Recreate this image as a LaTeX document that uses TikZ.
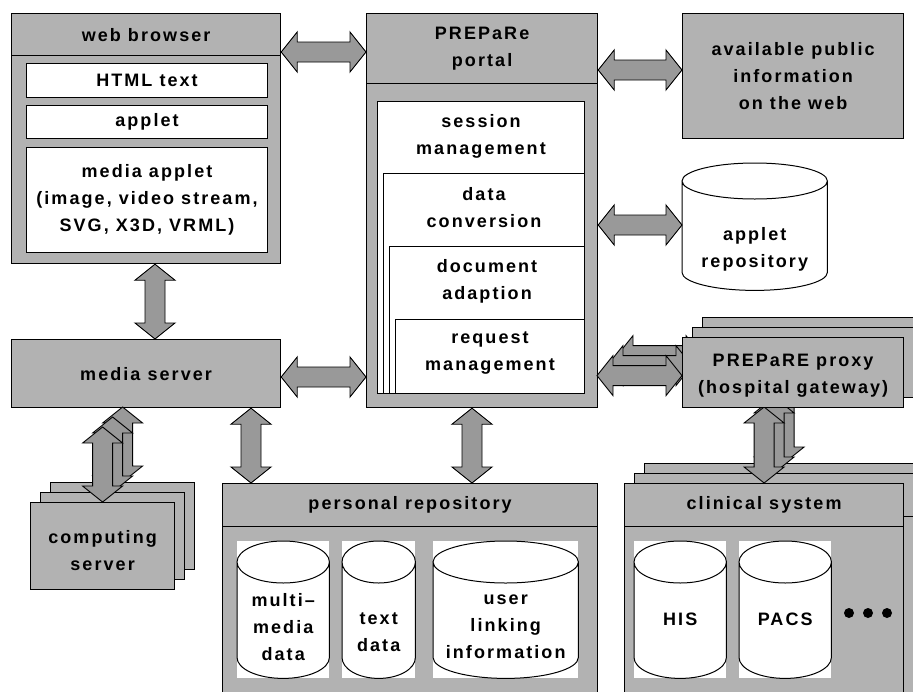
\documentclass[tikz,border=0pt]{standalone}
\usepackage{fontspec}
\setmainfont{Liberation Sans}[LetterSpace=11.5]
\usetikzlibrary{calc}
\definecolor{boxgray}{HTML}{B2B2B2}
\definecolor{arrowgray}{HTML}{999999}
\tikzstyle{gbox}=[draw=black,fill=boxgray,line width=1.2pt,anchor=north west,inner sep=0pt,align=center]
\tikzstyle{wbox}=[draw=black,fill=white,line width=1pt,anchor=north west,inner sep=0pt,align=center]
\tikzstyle{wrect}=[fill=white,anchor=north west,inner sep=0pt]
\tikzstyle{lbl}=[align=center,inner sep=0pt]
\tikzstyle{barrow}=[draw=black,fill=arrowgray,line width=0.9pt,line join=miter]
% block arrows: left--right and top--bottom
\newcommand{\harr}[2]{\draw[barrow] let \p1=#1, \p2=#2 in
  (\x1,\y1) -- (\x1+16pt,\y1+20pt) -- (\x1+16pt,\y1+10pt) -- (\x2-16pt,\y1+10pt) -- (\x2-16pt,\y1+20pt) -- (\x2,\y1)
  -- (\x2-16pt,\y1-20pt) -- (\x2-16pt,\y1-10pt) -- (\x1+16pt,\y1-10pt) -- (\x1+16pt,\y1-20pt) -- cycle;}
\newcommand{\varr}[2]{\draw[barrow] let \p1=#1, \p2=#2 in
  (\x1,\y1) -- (\x1+20pt,\y1-16pt) -- (\x1+10pt,\y1-16pt) -- (\x1+10pt,\y2+16pt) -- (\x1+20pt,\y2+16pt) -- (\x1,\y2)
  -- (\x1-20pt,\y2+16pt) -- (\x1-10pt,\y2+16pt) -- (\x1-10pt,\y1-16pt) -- (\x1-20pt,\y1-16pt) -- cycle;}
% cylinder outline over a node
\newcommand{\cyl}[2]{\draw[line width=1pt] let \p1=(#1.north west), \p2=(#1.south east), \n1={(\x2-\x1)/2} in
  (\x1,\y1-#2) -- (\x1,\y2+#2) arc[start angle=180,end angle=360,x radius={\n1*1pt},y radius=#2] -- (\x2,\y1-#2)
  (\x1+\n1*1pt,\y1-#2) ellipse[x radius={\n1*1pt},y radius=#2];}

\begin{document}
\begin{tikzpicture}[x=1pt,y=-1pt,font=\bfseries\fontsize{18}{27}\selectfont]
\path[use as bounding box] (0,0) rectangle (913,691);
\clip (0,0) rectangle (913,691);

% web browser
\node[gbox,minimum width=269pt,minimum height=250pt] (web) at (11,13) {};
\node[gbox,minimum width=269pt,minimum height=42pt] (webhead) at (11,13) {web browser};
\node[wbox,minimum width=241pt,minimum height=34pt] (html) at (26,63) {HTML text};
\node[wbox,minimum width=241pt,minimum height=33pt] (applet) at (26,105) {applet};
\node[wbox,minimum width=241pt,minimum height=105pt] (mapplet) at (26,147) {media applet\\(image, video stream,\\SVG, X3D, VRML)};

% portal
\node[gbox,minimum width=231pt,minimum height=394pt] (portal) at (366,13) {};
\node[gbox,minimum width=231pt,minimum height=70pt] (portalhead) at (366,13) {PREPaRe\\portal};
\node[wbox,minimum width=207pt,minimum height=292pt] (session) at (377,101) {};
\node[lbl] (sessiont) at ($(session.north)+(0,35)$) {session\\management};
\node[wbox,minimum width=201pt,minimum height=220pt] (conv) at (383,173) {};
\node[lbl] (convt) at ($(conv.north)+(0,35)$) {data\\conversion};
\node[wbox,minimum width=195pt,minimum height=147pt] (adapt) at (389,246) {};
\node[lbl] (adaptt) at ($(adapt.north)+(0,35)$) {document\\adaption};
\node[wbox,minimum width=189pt,minimum height=74pt] (request) at (395,319) {};
\node[lbl] (requestt) at ($(request.north)+(0,34)$) {request\\management};

% public web, applet repository
\node[gbox,minimum width=221pt,minimum height=125pt] (public) at (682,13) {available public\\information\\on the web};
\node[lbl,anchor=north west,minimum width=145pt,minimum height=127pt] (repo) at (682,163) {};
\cyl{repo}{18pt}
\node[lbl] (repot) at ($(repo.center)+(0,23)$) {applet\\repository};

% media server
\node[gbox,minimum width=269pt,minimum height=68pt] (media) at (11,339) {media server};

% personal repository
\node[gbox,minimum width=375pt,minimum height=260pt] (personal) at (222,483) {};
\node[gbox,minimum width=375pt,minimum height=43pt] (personalhead) at (222,483) {personal repository};
\node[wrect,minimum width=92pt,minimum height=137pt] (multi) at (237,541) {};
\cyl{multi}{21pt}
\node[lbl] (multit) at ($(multi.center)+(0,17)$) {multi–\\media\\data};
\node[wrect,minimum width=73pt,minimum height=137pt] (tdata) at (342,541) {};
\cyl{tdata}{21pt}
\node[lbl] (tdatat) at ($(tdata.center)+(0,23)$) {text\\data};
\node[wrect,minimum width=145pt,minimum height=137pt] (user) at (433,541) {};
\cyl{user}{21pt}
\node[lbl] (usert) at ($(user.center)+(0,17)$) {user\\linking\\information};

\harr{(web.east |- 0,52)}{(portal.west |- 0,52)}
\harr{(portal.east |- 0,70)}{(public.west |- 0,70)}
\harr{(portal.east |- 0,225)}{(repo.west |- 0,225)}
\harr{(media.east |- 0,377)}{(portal.west |- 0,377)}
\varr{(web.south -| 155,0)}{(media.north -| 155,0)}
\varr{(media.south -| 251,0)}{(personal.north -| 251,0)}
\varr{(portal.south -| 472,0)}{(personal.north -| 472,0)}

% computing servers
\foreach \k in {2,1,0}{
  \node[gbox,minimum width=144pt,minimum height=87pt] (cs\k) at (30+10*\k,502-10*\k) {};
  \coordinate (csup\k) at ($(cs\k.north)+(0,-75)$);
  \varr{(csup\k)}{(cs\k.north)}
}
\node[lbl] (cst) at ($(cs0.center)+(0,4)$) {computing\\server};

% clinical systems
\foreach \k in {2,1,0}{
  \node[gbox,minimum width=279pt,minimum height=260pt] (clin\k) at (624+10*\k,483-10*\k) {};
  \node[gbox,minimum width=279pt,minimum height=43pt] (clinhead\k) at (clin\k.north west) {};
  \coordinate (clinup\k) at ($(clin\k.north)+(0,-76)$);
  \varr{(clinup\k)}{(clin\k.north)}
}
\node[lbl] (clint) at (clinhead0.center) {clinical system};
\node[wrect,minimum width=92pt,minimum height=137pt] (his) at (634,541) {};
\cyl{his}{21pt}
\node[lbl] (hist) at ($(his.center)+(0,10)$) {HIS};
\node[wrect,minimum width=92pt,minimum height=137pt] (pacs) at (739,541) {};
\cyl{pacs}{21pt}
\node[lbl] (pacst) at ($(pacs.center)+(0,10)$) {PACS};
\foreach \x in {849,868,887} \fill (\x,613) circle (5pt);

% proxies
\foreach \k in {2,1,0}{
  \node[gbox,minimum width=221pt,minimum height=70pt] (proxy\k) at (682+10*\k,337-10*\k) {};
  \coordinate (proxyin\k) at ($(proxy\k.west)+(-85,3)$);
  \harr{(proxyin\k)}{(proxy\k.west)}
}
\node[lbl] (proxyt) at ($(proxy0.center)+(0,3)$) {PREPaRE proxy\\(hospital gateway)};
\end{tikzpicture}
\end{document}
